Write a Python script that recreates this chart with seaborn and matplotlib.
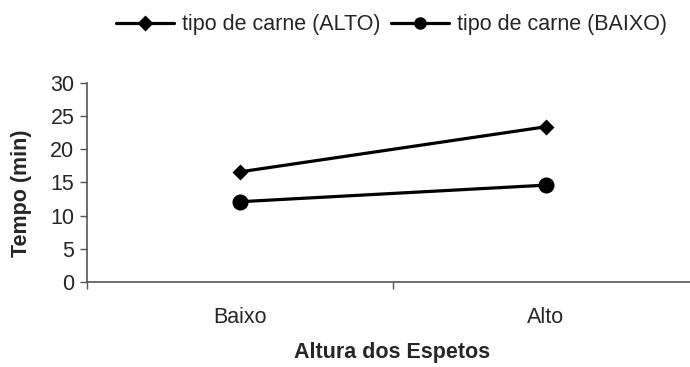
import pandas as pd
import matplotlib.pyplot as plt
import seaborn as sns

# dados
alturas = ['Baixo', 'Alto']
tempo_alto = [16.6, 23.4]   # tipo de carne (ALTO)
tempo_baixo = [12.1, 14.6]  # tipo de carne (BAIXO)
series = ['tipo de carne (ALTO)', 'tipo de carne (BAIXO)']
yticks = [0, 5, 10, 15, 20, 25, 30]

df = pd.DataFrame({
    'Altura': alturas * 2,
    'Tempo': tempo_alto + tempo_baixo,
    'Serie': [series[0]] * 2 + [series[1]] * 2,
})

sns.set_style('ticks')
plt.rcParams['font.family'] = ['Liberation Sans', 'DejaVu Sans']
plt.rcParams['font.size'] = 15.5

fig = plt.figure(figsize=(6.9, 3.67), dpi=100)
ax = fig.add_axes([0.126, 0.2316, 0.887, 0.5424])

sns.pointplot(
    data=df, x='Altura', y='Tempo', hue='Serie',
    order=alturas, hue_order=series,
    palette=['black', 'black'],
    markers=['D', 'o'], linestyles=['-', '-'],
    dodge=False, errorbar=None, ax=ax,
)
for linha, ms in zip(ax.lines, [6.3, 9.5]):
    linha.set_linewidth(2.3)
    linha.set_markersize(ms)

handles, labels = ax.get_legend_handles_labels()
if ax.get_legend() is not None:
    ax.get_legend().remove()
for h, ms in zip(handles, [6.3, 7]):
    h.set_linewidth(2.3)
    h.set_markersize(ms)
fig.legend(
    handles, labels, ncol=2, frameon=False,
    loc='center', bbox_to_anchor=(0.567, 0.932),
    handlelength=2.7, handletextpad=0.35, columnspacing=0.5,
    fontsize=15.5,
)

ax.set_xlim(-0.5, 1.5)
ax.set_ylim(0, 30)
ax.set_yticks(yticks)
ax.set_xticks([0, 1])
ax.set_xticklabels(alturas)
ax.set_xticks([-0.5, 0.5, 1.5], minor=True)
ax.tick_params(axis='x', which='major', length=0, pad=18)
ax.tick_params(axis='x', which='minor', length=5, width=1, color='#555555')
ax.tick_params(axis='y', length=5, width=1, color='#555555', pad=4)

for s in ['top', 'right']:
    ax.spines[s].set_visible(False)
for s in ['left', 'bottom']:
    ax.spines[s].set_color('#555555')
    ax.spines[s].set_linewidth(1.2)

ax.set_xlabel('Altura dos Espetos', fontweight='bold', fontsize=15.5)
ax.set_ylabel('Tempo (min)', fontweight='bold', fontsize=15.5)
ax.xaxis.set_label_coords(0.498, -0.3)
ax.yaxis.set_label_coords(-0.09, 0.447)

fig.savefig('out.png', dpi=100)
